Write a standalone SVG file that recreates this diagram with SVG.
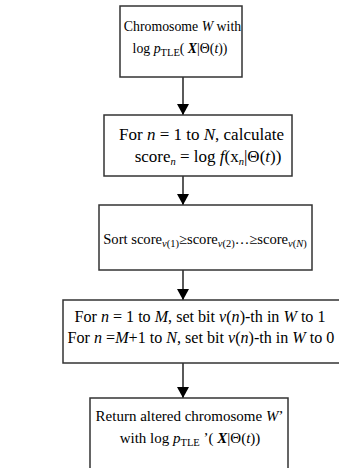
<svg xmlns="http://www.w3.org/2000/svg" width="339" height="468" viewBox="0 0 339 468">
<defs>
<style>
.box{fill:#fff;stroke:#333;stroke-width:1.5}
.t{font-family:"Liberation Serif","Times New Roman",serif;font-size:15px;fill:#000;text-anchor:middle}
.f1{font-size:13.8px}
.f2{font-size:17px}
.f3{font-size:14.6px}
.f4{font-size:16.1px}
.i{font-style:italic}
.b{font-weight:bold;font-style:italic}
.s{font-size:10.5px}
.conn{stroke:#000;stroke-width:1.3;fill:none}
</style>
<marker id="ah" markerWidth="11" markerHeight="12" refX="11" refY="6" orient="auto" markerUnits="userSpaceOnUse">
<path d="M0,0 L11,6 L0,12 Z" fill="#000"/>
</marker>
</defs>
<g id="connectors">
<line class="conn" x1="183" y1="77" x2="183" y2="115" marker-end="url(#ah)"/>
<line class="conn" x1="183" y1="176" x2="183" y2="205" marker-end="url(#ah)"/>
<line class="conn" x1="183" y1="270" x2="183" y2="300" marker-end="url(#ah)"/>
<line class="conn" x1="183" y1="363" x2="183" y2="398" marker-end="url(#ah)"/>
</g>
<g id="n1">
<rect class="box" x="120" y="6" width="122" height="71"/>
<text class="t f1" x="182.5" y="31">Chromosome <tspan class="i">W</tspan> with</text>
<text class="t f1" x="180" y="53">log <tspan class="i">p</tspan><tspan class="s" dy="3">TLE</tspan><tspan dy="-3">( </tspan><tspan class="b">X</tspan>|Θ(<tspan class="i">t</tspan>))</text>
</g>
<g id="n2">
<rect class="box" x="104" y="115" width="188" height="61"/>
<text class="t f2" x="201.5" y="140">For <tspan class="i">n</tspan> = 1 to <tspan class="i">N</tspan>, calculate</text>
<text class="t f2" x="208" y="162">score<tspan class="s i" dy="3">n</tspan><tspan dy="-3"> = log </tspan><tspan class="i">f</tspan>(x<tspan class="s i" dy="3">n</tspan><tspan dy="-3">|Θ(</tspan><tspan class="i">t</tspan>))</text>
</g>
<g id="n3">
<rect class="box" x="99" y="205" width="213" height="65"/>
<text class="t f3" x="205" y="244">Sort score<tspan class="s" dy="3"><tspan class="i">v</tspan>(1)</tspan><tspan dy="-3">≥score</tspan><tspan class="s" dy="3"><tspan class="i">v</tspan>(2)</tspan><tspan dy="-3">…≥score</tspan><tspan class="s" dy="3"><tspan class="i">v</tspan>(<tspan class="i">N</tspan>)</tspan></text>
</g>
<g id="n4">
<rect class="box" x="63" y="300" width="290" height="63"/>
<text class="t f4" x="200" y="322">For <tspan class="i">n</tspan> = 1 to <tspan class="i">M</tspan>, set bit <tspan class="i">v</tspan>(<tspan class="i">n</tspan>)-th in <tspan class="i">W</tspan> to 1</text>
<text class="t f4" x="201" y="343">For <tspan class="i">n</tspan> =<tspan class="i">M</tspan>+1 to <tspan class="i">N</tspan>, set bit <tspan class="i">v</tspan>(<tspan class="i">n</tspan>)-th in <tspan class="i">W</tspan> to 0</text>
</g>
<g id="n5">
<rect class="box" x="90" y="398" width="198" height="80"/>
<text class="t" x="189.5" y="421">Return altered chromosome <tspan class="i">W</tspan>’</text>
<text class="t" x="190" y="443">with log <tspan class="i">p</tspan><tspan class="s" dy="3">TLE</tspan><tspan dy="-3"> ’( </tspan><tspan class="b">X</tspan>|Θ(<tspan class="i">t</tspan>))</text>
</g>
</svg>
